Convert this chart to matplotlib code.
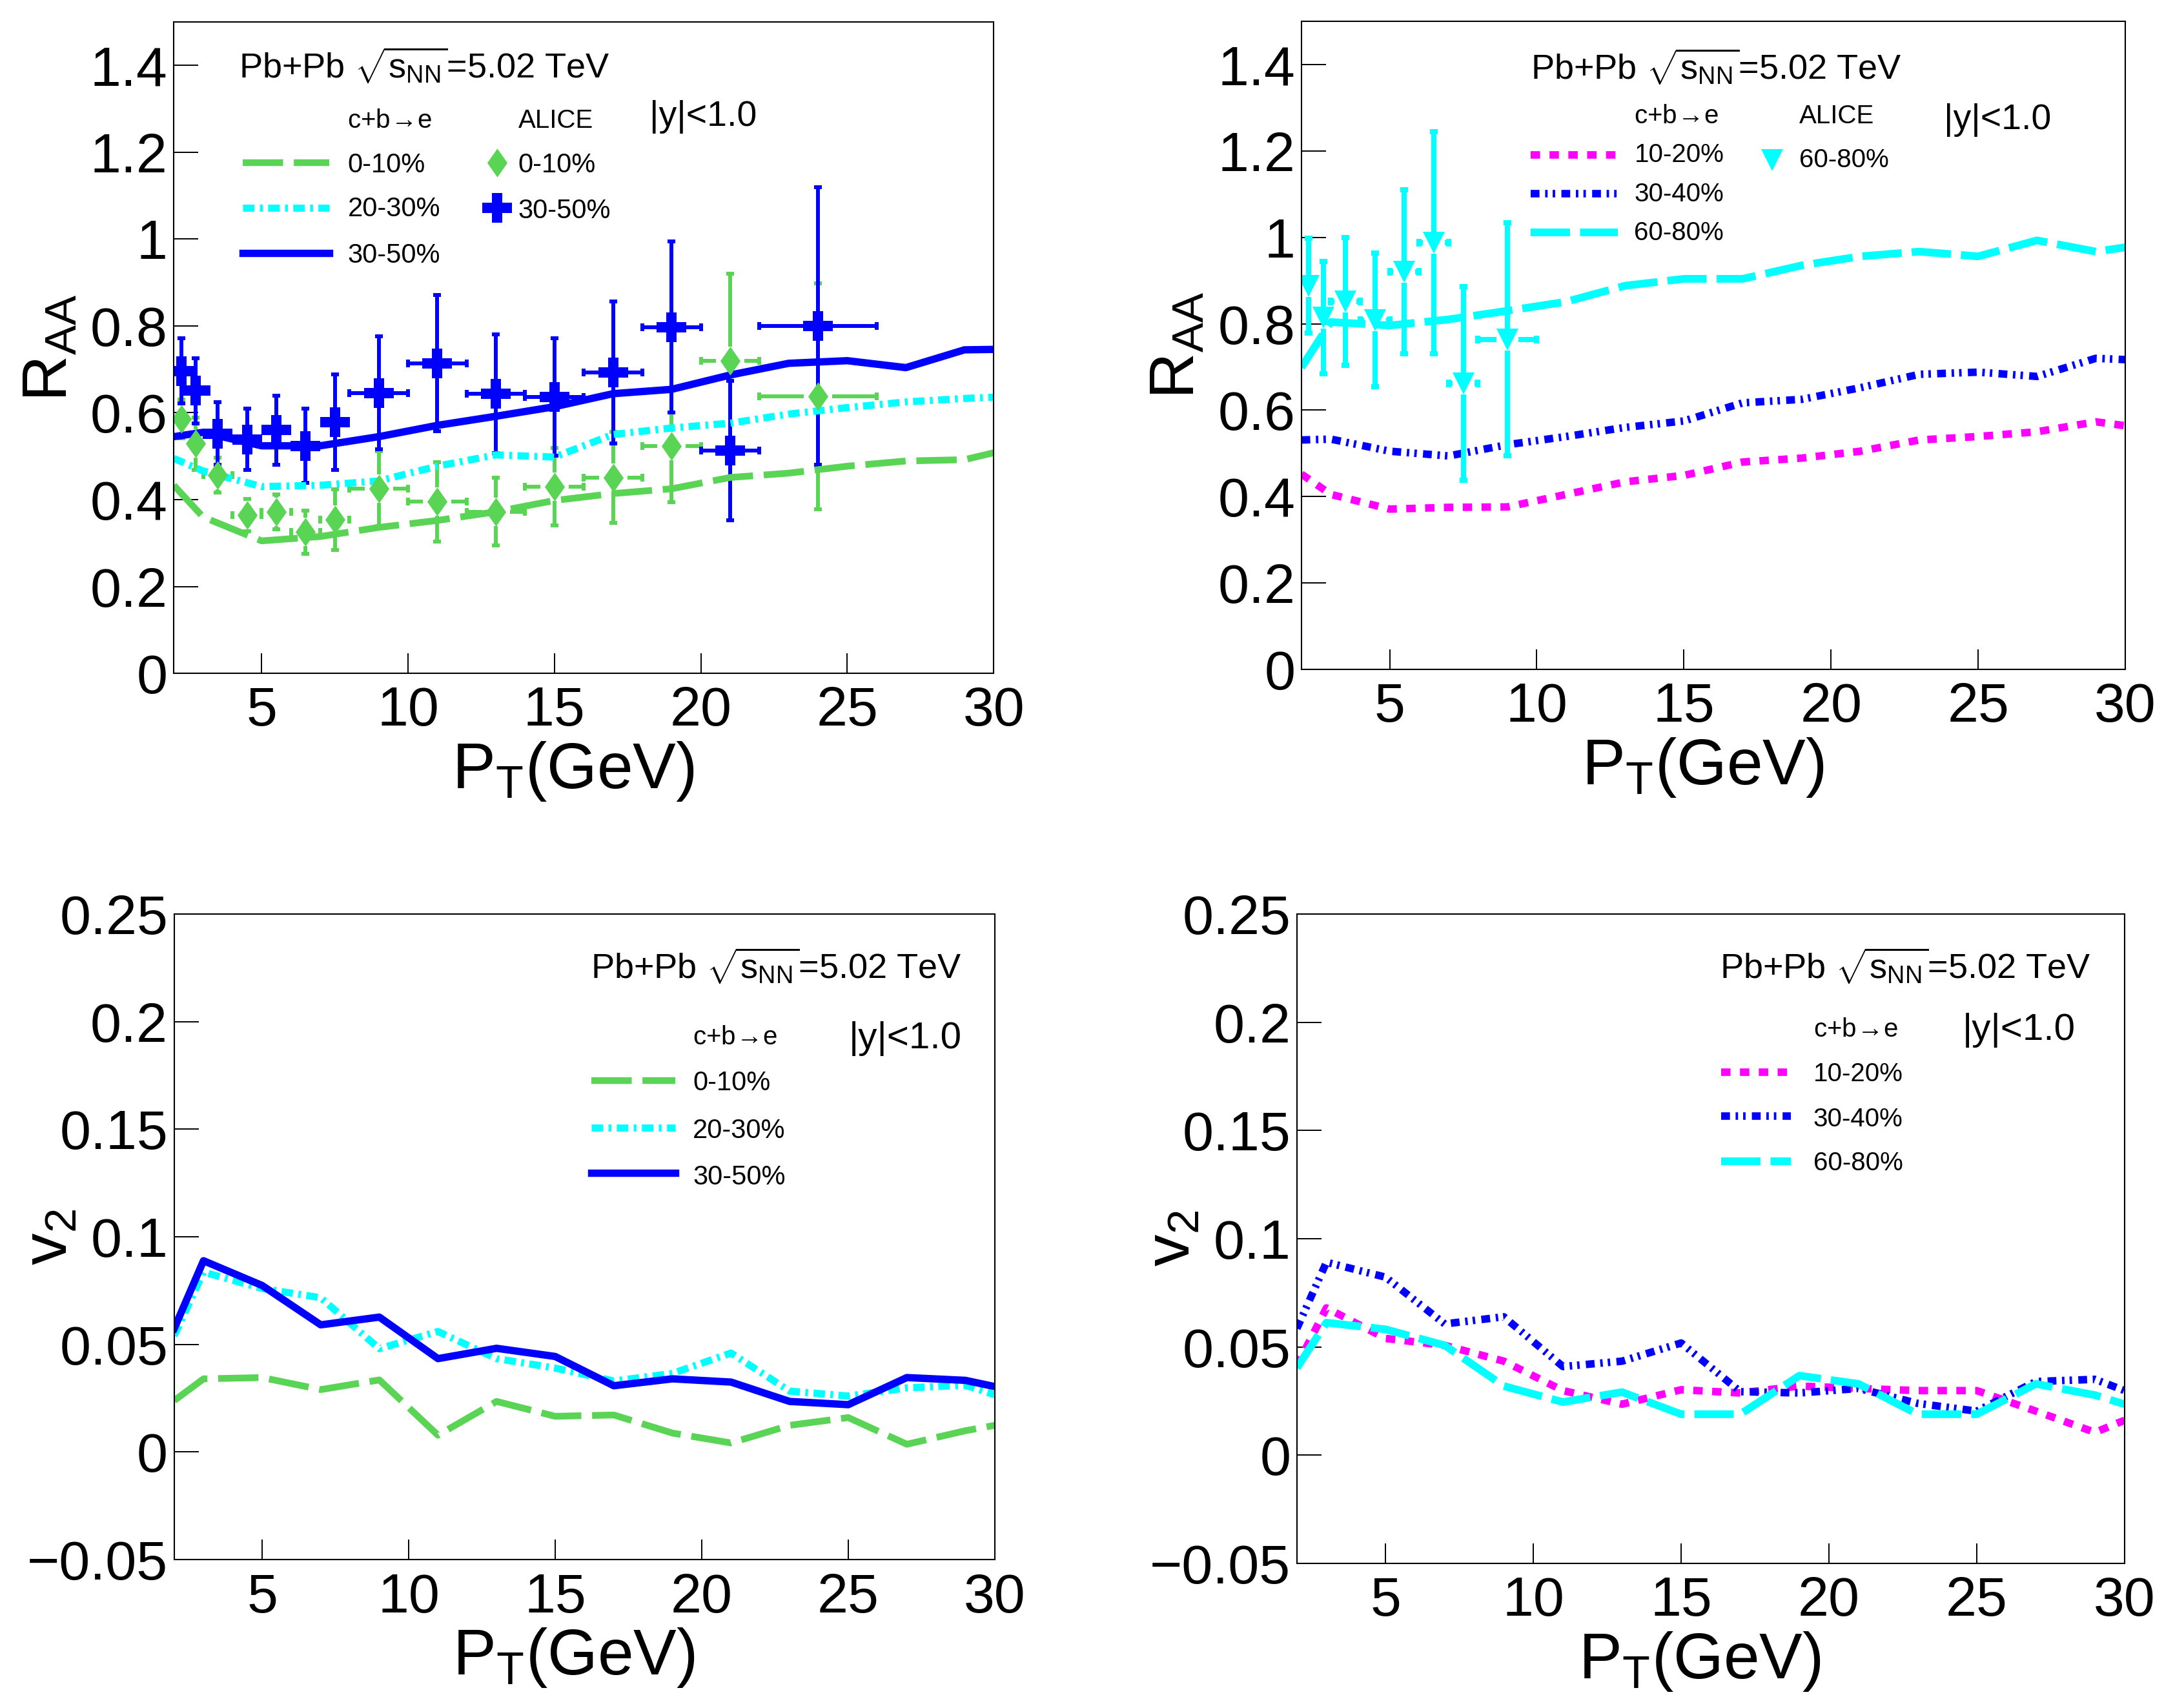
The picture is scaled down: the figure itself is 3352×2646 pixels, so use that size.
import numpy as np
import matplotlib
matplotlib.use("Agg")
import matplotlib.pyplot as plt
from matplotlib.ticker import FuncFormatter

plt.rcParams['font.family'] = ['Liberation Sans', 'DejaVu Sans']
plt.rcParams['mathtext.fontset'] = 'custom'
plt.rcParams['mathtext.rm'] = 'Liberation Sans'
plt.rcParams['mathtext.it'] = 'Liberation Sans'
plt.rcParams['mathtext.bf'] = 'Liberation Sans:bold'
plt.rcParams['mathtext.default'] = 'regular'

# model curves (c+b -> e)
pt_model = [2, 3, 5, 7, 9, 11, 13, 15, 17, 19, 21, 23, 25, 27, 29, 30]

raa_010 = [0.433, 0.36, 0.305, 0.315, 0.336, 0.352, 0.372, 0.398, 0.414, 0.425, 0.451, 0.461, 0.477, 0.489, 0.492, 0.508]
raa_2030 = [0.495, 0.466, 0.43, 0.433, 0.443, 0.477, 0.503, 0.498, 0.55, 0.565, 0.576, 0.597, 0.612, 0.625, 0.633, 0.636]
raa_3050 = [0.545, 0.555, 0.524, 0.524, 0.545, 0.571, 0.592, 0.614, 0.644, 0.654, 0.687, 0.714, 0.72, 0.704, 0.745, 0.746]

raa_1020 = [0.452, 0.405, 0.371, 0.375, 0.376, 0.405, 0.434, 0.449, 0.48, 0.489, 0.505, 0.531, 0.539, 0.55, 0.573, 0.564]
raa_3040 = [0.531, 0.533, 0.505, 0.494, 0.52, 0.539, 0.56, 0.575, 0.617, 0.625, 0.652, 0.683, 0.688, 0.678, 0.72, 0.717]
raa_6080 = [0.699, 0.804, 0.796, 0.81, 0.83, 0.851, 0.888, 0.904, 0.904, 0.935, 0.956, 0.967, 0.956, 0.993, 0.967, 0.977]

v2_010 = [0.0239, 0.034, 0.0346, 0.029, 0.0335, 0.0078, 0.0235, 0.0166, 0.0172, 0.0088, 0.0042, 0.0124, 0.016, 0.0036, 0.0099, 0.0124]
v2_2030 = [0.054, 0.0836, 0.076, 0.0717, 0.048, 0.056, 0.0434, 0.039, 0.033, 0.0365, 0.046, 0.0283, 0.026, 0.0298, 0.031, 0.0266]
v2_3050 = [0.0574, 0.0889, 0.0774, 0.0591, 0.0627, 0.0434, 0.0482, 0.0444, 0.0308, 0.034, 0.0325, 0.0235, 0.022, 0.0346, 0.0333, 0.0304]

v2_1020 = [0.0413, 0.068, 0.0539, 0.0507, 0.0434, 0.0298, 0.0235, 0.0302, 0.0287, 0.0319, 0.0308, 0.0298, 0.0298, 0.0203, 0.0105, 0.0161]
v2_3040 = [0.0585, 0.0891, 0.0822, 0.0606, 0.0639, 0.0409, 0.0434, 0.0518, 0.0293, 0.0287, 0.0308, 0.0239, 0.0203, 0.034, 0.035, 0.0298]
v2_6080 = [0.0403, 0.0612, 0.0581, 0.0507, 0.0319, 0.0245, 0.0291, 0.0189, 0.0189, 0.0367, 0.0329, 0.0189, 0.0189, 0.0329, 0.0277, 0.0235]

# ALICE data
alice_pt = [2.25, 2.75, 3.5, 4.5, 5.5, 6.5, 7.5, 9, 11, 13, 15, 17, 19, 21, 24]
alice_ex = [0.25, 0.25, 0.5, 0.5, 0.5, 0.5, 0.5, 1, 1, 1, 1, 1, 1, 1, 2]
alice_010 = [0.586, 0.529, 0.456, 0.364, 0.372, 0.325, 0.354, 0.425, 0.395, 0.372, 0.43, 0.451, 0.524, 0.72, 0.638]
alice_010_err = [0.045, 0.06, 0.04, 0.037, 0.04, 0.05, 0.07, 0.086, 0.091, 0.078, 0.089, 0.105, 0.13, 0.2, 0.26]
alice_3050 = [0.696, 0.651, 0.552, 0.539, 0.56, 0.524, 0.579, 0.646, 0.714, 0.644, 0.636, 0.693, 0.797, 0.513, 0.8]
alice_3050_err = [0.075, 0.075, 0.072, 0.07, 0.08, 0.085, 0.11, 0.13, 0.157, 0.137, 0.135, 0.163, 0.197, 0.16, 0.32]

alice_pt_6080 = [2.25, 2.75, 3.5, 4.5, 5.5, 6.5, 7.5, 9]
alice_ex_6080 = [0.25, 0.25, 0.5, 0.5, 0.5, 0.5, 0.5, 1]
alice_6080 = [0.888, 0.815, 0.851, 0.809, 0.92, 0.988, 0.662, 0.764]
alice_6080_err = [0.11, 0.13, 0.148, 0.154, 0.19, 0.257, 0.224, 0.27]

GREEN = '#59d454'
CYAN = '#00ffff'
BLUE = '#0000ff'
MAGENTA = '#ff00ff'

s010 = dict(color=GREEN, lw=7.5, ls=(0, (6.0, 1.6)))
s2030 = dict(color=CYAN, lw=8.0, ls=(0, (1.6, 0.75, 0.4, 0.75)))
s3050 = dict(color=BLUE, lw=8.2, ls='-')
s1020 = dict(color=MAGENTA, lw=8.4, ls=(0, (1.25, 1.25)))
s3040 = dict(color=BLUE, lw=8.4, ls=(0, (1.17, 0.75, 0.33, 0.67, 0.33, 0.83)))
s6080 = dict(color=CYAN, lw=8.6, ls=(0, (5.1, 1.3)))

DIAMOND = [(0, 1), (0.7, 0), (0, -1), (-0.7, 0), (0, 1)]

FIG_W, FIG_H = 3352, 2646
fig = plt.figure(figsize=(FIG_W / 100, FIG_H / 100), dpi=100)


def fmt(v, pos):
    return ('%g' % round(v, 6)).replace('-', '\u2212')


def setup(ax, ylim, yticks, ylabel):
    ax.set_xlim(2, 30)
    ax.set_ylim(*ylim)
    ax.set_xticks([5, 10, 15, 20, 25, 30])
    ax.set_yticks(yticks)
    ax.xaxis.set_major_formatter(FuncFormatter(fmt))
    ax.yaxis.set_major_formatter(FuncFormatter(fmt))
    ax.minorticks_off()
    ax.tick_params(axis='x', direction='in', length=22, width=1.4, pad=14, labelsize=62)
    ax.tick_params(axis='y', direction='in', length=27, width=1.4, pad=7, labelsize=62)
    for s in ax.spines.values():
        s.set_linewidth(1.5)
    ax.annotate(r'P$_{T}$(GeV)', xy=(0.487, 0), xycoords='axes fraction',
                xytext=(0, -128), textcoords='offset points',
                ha='center', va='baseline', fontsize=72)
    ax.annotate(ylabel, xy=(0, 0.5), xycoords='axes fraction',
                xytext=(-138, 0), textcoords='offset points',
                rotation=90, ha='center', va='center', fontsize=71)


def draw_bars(ax, x, y, ex, ey, color, elw, gap_px):
    # error bars stop at the marker box, like ROOT does
    pos = ax.get_position()
    wpx = pos.width * FIG_W
    hpx = pos.height * FIG_H
    x0, x1 = ax.get_xlim()
    y0, y1 = ax.get_ylim()
    gx = gap_px * (x1 - x0) / wpx
    gy = gap_px * (y1 - y0) / hpx
    x = np.asarray(x, float)
    y = np.asarray(y, float)
    ex = np.asarray(ex, float)
    ey = np.asarray(ey, float)
    cap = 8.2
    mv = ey > gy
    ax.vlines(x[mv], y[mv] + gy, y[mv] + ey[mv], color=color, lw=elw)
    ax.vlines(x[mv], y[mv] - ey[mv], y[mv] - gy, color=color, lw=elw)
    ax.plot(x[mv], y[mv] + ey[mv], ls='none', marker='_', ms=cap, mew=elw, color=color)
    ax.plot(x[mv], y[mv] - ey[mv], ls='none', marker='_', ms=cap, mew=elw, color=color)
    mh = ex > gx
    ax.hlines(y[mh], x[mh] + gx, x[mh] + ex[mh], color=color, lw=elw)
    ax.hlines(y[mh], x[mh] - ex[mh], x[mh] - gx, color=color, lw=elw)
    ax.plot(x[mh] + ex[mh], y[mh], ls='none', marker='|', ms=cap, mew=elw, color=color)
    ax.plot(x[mh] - ex[mh], y[mh], ls='none', marker='|', ms=cap, mew=elw, color=color)


def text(ax, x, y, s, fs):
    ax.text(x, y, s, transform=ax.transAxes, fontsize=fs, ha='left', va='baseline',
            math_fontfamily='dejavusans' if 'rightarrow' in s else None)


def leg_line(ax, x0, x1, y, style):
    ax.plot([x0, x1], [y, y], transform=ax.transAxes, clip_on=False, **style)


TITLE = r'Pb+Pb $\sqrt{s_{NN}}$=5.02 TeV'
CBE = r'c+b$\!\rightarrow\!$e'

# ---------------- top left: RAA central ----------------
ax1 = fig.add_axes([0.0803, 0.6058, 0.3789, 0.3813])
setup(ax1, (0, 1.5), [0, 0.2, 0.4, 0.6, 0.8, 1.0, 1.2, 1.4], r'R$_{AA}$')
draw_bars(ax1, alice_pt, alice_010, alice_ex, alice_010_err, GREEN, 4.3, 22)
draw_bars(ax1, alice_pt, alice_3050, alice_ex, alice_3050_err, BLUE, 4.3, 23)
ax1.plot(pt_model, raa_010, **s010)
ax1.plot(pt_model, raa_2030, **s2030)
ax1.plot(pt_model, raa_3050, **s3050)
ax1.plot(alice_pt, alice_010, ls='none', marker=DIAMOND, ms=32, color=GREEN, mew=0)
ax1.plot(alice_pt, alice_3050, ls='none', marker='P', ms=33, color=BLUE, mew=0)

text(ax1, 0.0795, 0.913, TITLE, 39)
text(ax1, 0.212, 0.838, CBE, 29)
text(ax1, 0.42, 0.838, 'ALICE', 29)
text(ax1, 0.58, 0.841, '|y|<1.0', 40)
leg_line(ax1, 0.084, 0.19, 0.784, s010)
leg_line(ax1, 0.084, 0.19, 0.7146, s2030)
leg_line(ax1, 0.084, 0.19, 0.645, s3050)
text(ax1, 0.212, 0.769, '0-10%', 30)
text(ax1, 0.212, 0.7017, '20-30%', 30)
text(ax1, 0.212, 0.630, '30-50%', 30)
ax1.plot([0.394], [0.784], transform=ax1.transAxes, marker=DIAMOND, ms=32, color=GREEN, mew=0, clip_on=False)
ax1.plot([0.394], [0.7146], transform=ax1.transAxes, marker='P', ms=33, color=BLUE, mew=0, clip_on=False)
text(ax1, 0.42, 0.769, '0-10%', 30)
text(ax1, 0.42, 0.699, '30-50%', 30)

# ---------------- top right: RAA peripheral ----------------
ax2 = fig.add_axes([0.6014, 0.6081, 0.3807, 0.3794])
setup(ax2, (0, 1.5), [0, 0.2, 0.4, 0.6, 0.8, 1.0, 1.2, 1.4], r'R$_{AA}$')
ax2.plot(pt_model, raa_1020, **s1020)
ax2.plot(pt_model, raa_3040, **s3040)
ax2.plot(pt_model, raa_6080, **s6080)
draw_bars(ax2, alice_pt_6080, alice_6080, alice_ex_6080, alice_6080_err, CYAN, 5.8, 17)
ax2.plot(alice_pt_6080, alice_6080, ls='none', marker='v', ms=25, color=CYAN, mew=0)

text(ax2, 0.278, 0.91, TITLE, 39)
text(ax2, 0.404, 0.843, CBE, 29)
text(ax2, 0.604, 0.843, 'ALICE', 29)
text(ax2, 0.78, 0.834, '|y|<1.0', 40)
leg_line(ax2, 0.278, 0.384, 0.794, s1020)
leg_line(ax2, 0.278, 0.384, 0.734, s3040)
leg_line(ax2, 0.278, 0.384, 0.674, s6080)
text(ax2, 0.404, 0.783, '10-20%', 29)
text(ax2, 0.404, 0.722, '30-40%', 29)
text(ax2, 0.404, 0.662, '60-80%', 29)
ax2.plot([0.571], [0.786], transform=ax2.transAxes, marker='v', ms=25, color=CYAN, mew=0, clip_on=False)
text(ax2, 0.604, 0.775, '60-80%', 29)

# ---------------- bottom left: v2 central ----------------
ax3 = fig.add_axes([0.0805, 0.0869, 0.3792, 0.3779])
setup(ax3, (-0.05, 0.25), [-0.05, 0, 0.05, 0.1, 0.15, 0.2, 0.25], r'v$_{2}$')
ax3.plot(pt_model, v2_010, **s010)
ax3.plot(pt_model, v2_2030, **s2030)
ax3.plot(pt_model, v2_3050, **s3050)

text(ax3, 0.5075, 0.90, TITLE, 39)
text(ax3, 0.632, 0.798, CBE, 29)
text(ax3, 0.822, 0.792, '|y|<1.0', 42)
leg_line(ax3, 0.508, 0.611, 0.742, s010)
leg_line(ax3, 0.508, 0.611, 0.669, s2030)
leg_line(ax3, 0.508, 0.611, 0.599, s3050)
text(ax3, 0.632, 0.727, '0-10%', 30)
text(ax3, 0.632, 0.653, '20-30%', 30)
text(ax3, 0.632, 0.581, '30-50%', 30)

# ---------------- bottom right: v2 peripheral ----------------
ax4 = fig.add_axes([0.5993, 0.0847, 0.3825, 0.3802])
setup(ax4, (-0.05, 0.25), [-0.05, 0, 0.05, 0.1, 0.15, 0.2, 0.25], r'v$_{2}$')
ax4.plot(pt_model, v2_1020, **s1020)
ax4.plot(pt_model, v2_3040, **s3040)
ax4.plot(pt_model, v2_6080, **s6080)

text(ax4, 0.511, 0.90, TITLE, 39)
text(ax4, 0.624, 0.811, CBE, 29)
text(ax4, 0.804, 0.806, '|y|<1.0', 42)
leg_line(ax4, 0.5125, 0.597, 0.756, s1020)
leg_line(ax4, 0.5125, 0.597, 0.689, s3040)
leg_line(ax4, 0.5125, 0.597, 0.619, s6080)
text(ax4, 0.624, 0.742, '10-20%', 29)
text(ax4, 0.624, 0.673, '30-40%', 29)
text(ax4, 0.624, 0.605, '60-80%', 29)

fig.savefig('out.png', dpi=100, facecolor='white')
